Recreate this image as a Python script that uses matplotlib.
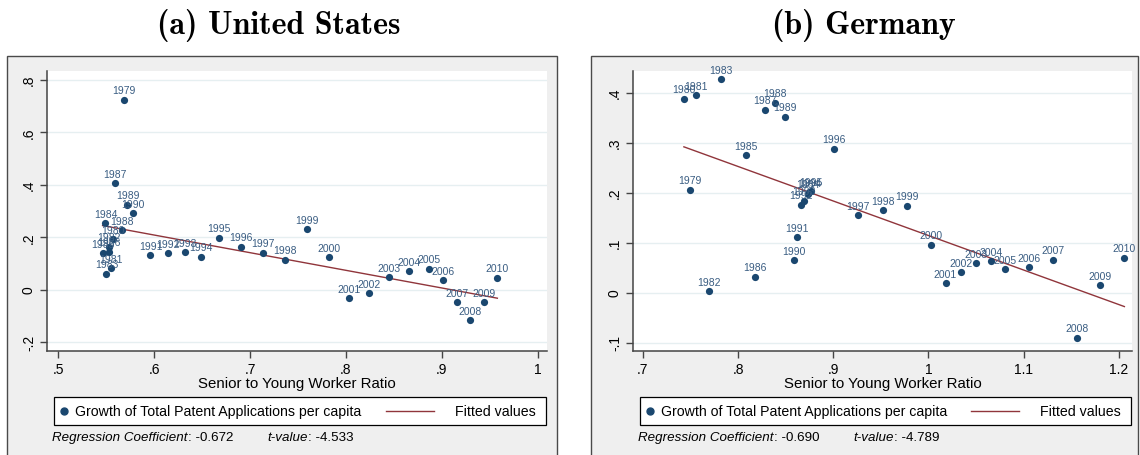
import numpy as np
import matplotlib
matplotlib.use("Agg")
import matplotlib.pyplot as plt
from matplotlib.patches import Rectangle
from matplotlib.lines import Line2D

plt.rcParams['font.family'] = ['Liberation Sans', 'DejaVu Sans']

years = list(range(1979, 2011))

# (a) United States: senior/young worker ratio vs growth of patent applications per capita
us_ratio = [0.568, 0.557, 0.555, 0.553, 0.550, 0.549, 0.546, 0.553, 0.559, 0.566,
            0.572, 0.578, 0.596, 0.614, 0.632, 0.649, 0.667, 0.690, 0.713, 0.736,
            0.759, 0.782, 0.803, 0.824, 0.845, 0.866, 0.887, 0.901, 0.916, 0.929,
            0.944, 0.958]
us_growth = [0.723, 0.193, 0.081, 0.164, 0.060, 0.253, 0.139, 0.144, 0.406, 0.227,
             0.323, 0.291, 0.132, 0.139, 0.142, 0.125, 0.197, 0.163, 0.141, 0.114,
             0.231, 0.123, -0.032, -0.014, 0.047, 0.069, 0.080, 0.036, -0.048, -0.117,
             -0.048, 0.045]
us_slope = -0.672
us_intercept = 0.611
us_tvalue = -4.533

# (b) Germany
de_ratio = [0.749, 0.743, 0.756, 0.769, 0.782, 0.873, 0.808, 0.818, 0.828, 0.839,
            0.849, 0.859, 0.862, 0.866, 0.869, 0.875, 0.877, 0.901, 0.926, 0.952,
            0.977, 1.0025, 1.018, 1.034, 1.050, 1.066, 1.081, 1.106, 1.131, 1.156,
            1.180, 1.206]
de_growth = [0.206, 0.388, 0.395, 0.003, 0.427, 0.198, 0.275, 0.032, 0.366, 0.380,
             0.352, 0.065, 0.111, 0.176, 0.184, 0.201, 0.203, 0.288, 0.155, 0.165,
             0.174, 0.096, 0.019, 0.041, 0.059, 0.063, 0.047, 0.051, 0.066, -0.090,
             0.015, 0.070]
de_slope = -0.690
de_intercept = 0.804
de_tvalue = -4.789

us_xticks = [0.5, 0.6, 0.7, 0.8, 0.9, 1.0]
us_xticklabels = ['.5', '.6', '.7', '.8', '.9', '1']
us_yticks = [-0.2, 0.0, 0.2, 0.4, 0.6, 0.8]
us_yticklabels = ['-.2', '0', '.2', '.4', '.6', '.8']
de_xticks = [0.7, 0.8, 0.9, 1.0, 1.1, 1.2]
de_xticklabels = ['.7', '.8', '.9', '1', '1.1', '1.2']
de_yticks = [-0.1, 0.0, 0.1, 0.2, 0.3, 0.4]
de_yticklabels = ['-.1', '0', '.1', '.2', '.3', '.4']

NAVY = '#1a476f'
LABEL = '#3a5d82'
MAROON = '#90353b'
W, H = 1140, 456

fig = plt.figure(figsize=(W / 100, H / 100), dpi=100)


def fx(px):
    return px / W


def fy(py):
    return 1 - py / H


def panel(box, axbox, x, y, xlim, ylim, xt, xtl, yt, ytl, slope, icpt, tval, title, title_x):
    # grey panel background with border
    bx0, bx1, by0 = box
    fig.add_artist(Rectangle((fx(bx0), fy(470)), fx(bx1 - bx0), (470 - by0) / H,
                             transform=fig.transFigure, facecolor='#efefef',
                             edgecolor='#4a4a4a', lw=1.0, zorder=0))
    fig.text(fx(title_x), fy(25), title, fontfamily='cmb10', fontsize=23,
             ha='center', va='center')

    ax0, ax1, ay0, ay1 = axbox
    ax = fig.add_axes([fx(ax0), fy(ay1), fx(ax1 - ax0), (ay1 - ay0) / H])
    ax.set_facecolor('white')
    ax.scatter(x, y, s=27, color=NAVY, zorder=3, linewidths=0)
    for xi, yi, yr in zip(x, y, years):
        ax.annotate(str(yr), (xi, yi), xytext=(0, 3.2), textcoords='offset points',
                    ha='center', va='bottom', fontsize=7.5, color=LABEL, zorder=4)
    xs = np.array([min(x), max(x)])
    ax.plot(xs, icpt + slope * xs, color=MAROON, lw=1.0, zorder=2)

    ax.set_xlim(xlim)
    ax.set_ylim(ylim)
    ax.set_xticks(xt, xtl)
    ax.set_yticks(yt, ytl)
    ax.tick_params(axis='y', labelrotation=90)
    for lab in ax.get_yticklabels():
        lab.set_va('center')
    ax.tick_params(length=5, width=1, color='#444444', labelsize=10, pad=3)
    ax.grid(axis='y', color='#e6eff1', lw=1.0, zorder=0)
    ax.set_axisbelow(True)
    for s in ['top', 'right']:
        ax.spines[s].set_visible(False)
    for s in ['left', 'bottom']:
        ax.spines[s].set_color('#444444')
        ax.spines[s].set_linewidth(1.1)
    ax.set_xlabel('Senior to Young Worker Ratio', fontsize=10.8, labelpad=0)

    # legend box
    lx0, lx1 = ax0 + 7, ax1 - 1
    ly0, ly1 = 398, 426
    ymid = fy((ly0 + ly1) / 2)
    fig.add_artist(Rectangle((fx(lx0), fy(ly1)), fx(lx1 - lx0), (ly1 - ly0) / H,
                             transform=fig.transFigure, facecolor='white',
                             edgecolor='black', lw=0.9, zorder=1))
    fig.add_artist(Line2D([fx(lx0 + 10)], [ymid], marker='o', ms=5, color=NAVY,
                          lw=0, transform=fig.transFigure, zorder=2))
    fig.text(fx(lx0 + 21), ymid, 'Growth of Total Patent Applications per capita',
             fontsize=10.2, va='center', ha='left', zorder=2)
    fig.text(fx(lx1 - 10), ymid, 'Fitted values', fontsize=10.2, va='center',
             ha='right', zorder=2)
    fig.add_artist(Line2D([fx(lx1 - 160), fx(lx1 - 112)], [ymid, ymid], color=MAROON,
                          lw=1.0, transform=fig.transFigure, zorder=2))

    # regression note: italic names, upright values
    ny = fy(444)
    t1 = fig.text(fx(ax0 + 5), ny, 'Regression Coefficient', fontsize=9.6,
                  style='italic', va='bottom')
    plt.annotate(': %.3f' % slope, xy=(1, 0), xycoords=t1, fontsize=9.6, va='bottom')
    t2 = fig.text(fx(ax0 + 5 + 215), ny, 't-value', fontsize=9.6, style='italic',
                  va='bottom')
    plt.annotate(': %.3f' % tval, xy=(1, 0), xycoords=t2, fontsize=9.6, va='bottom')
    return ax


panel((7, 557, 57), (47, 547, 72, 352), us_ratio, us_growth, (0.488, 1.0098),
      (-0.234, 0.833), us_xticks, us_xticklabels, us_yticks, us_yticklabels,
      us_slope, us_intercept, us_tvalue, '(a) United States', 279)
panel((591, 1138, 57), (633, 1132, 72, 352), de_ratio, de_growth, (0.6895, 1.214),
      (-0.117, 0.443), de_xticks, de_xticklabels, de_yticks, de_yticklabels,
      de_slope, de_intercept, de_tvalue, '(b) Germany', 864)

fig.savefig('out.png', dpi=100)
